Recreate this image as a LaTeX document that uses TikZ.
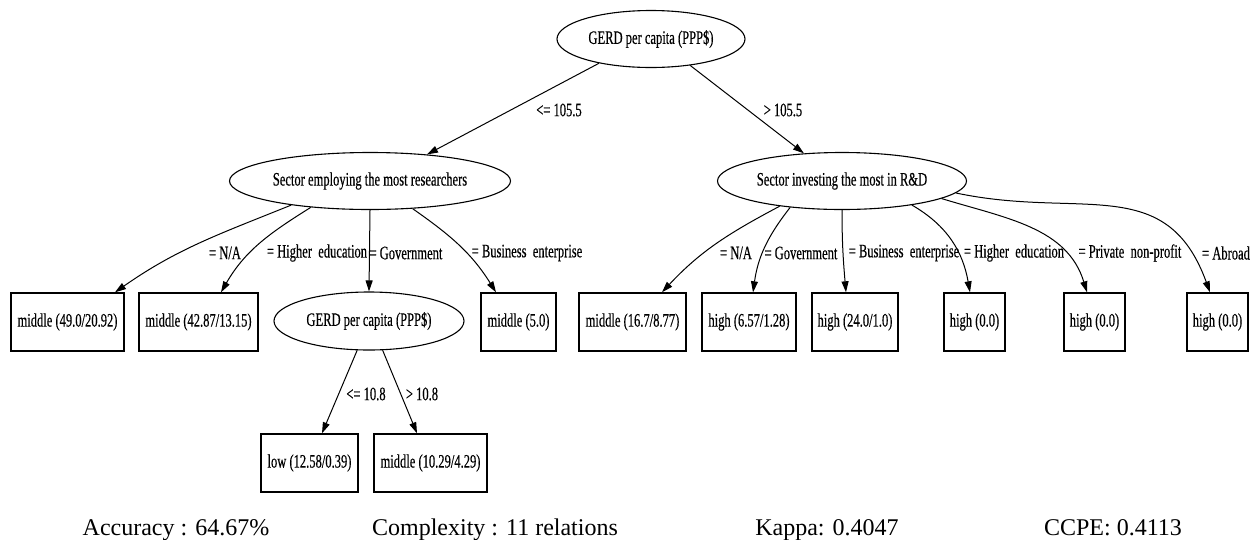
\documentclass[tikz,border=0pt]{standalone}
\usepackage{fontspec}
\setmainfont{Liberation Serif}
\newfontfamily\condfont[FakeStretch=0.66,FakeBold=0.4]{Liberation Serif}
\usetikzlibrary{shapes.geometric,arrows.meta,calc}
\begin{document}
\begin{tikzpicture}[x=1pt,y=-1pt,
  every node/.style={font=\condfont\fontsize{19}{22}\selectfont},
  ell/.style={draw,ellipse,line width=1.1pt,inner sep=0pt,minimum height=57pt},
  leaf/.style={draw,rectangle,line width=1.4pt,inner sep=0pt,minimum height=58pt},
  edge/.style={line width=1pt,-{Triangle[length=11pt,width=7pt]}},
  lbl/.style={inner sep=0pt},
  stat/.style={font=\fontsize{24}{28}\selectfont,inner sep=0pt,anchor=base}]
\useasboundingbox (0,0) rectangle (1260,539);

% internal nodes
\node[ell,minimum width=188pt] (root) at (651,39) {GERD per capita (PPP\$)};
\node[ell,minimum width=281pt] (emp) at (370,181) {Sector employing the most researchers};
\node[ell,minimum width=249pt] (inv) at (842,181) {Sector investing the most in R\&D};
\node[ell,minimum width=190pt,minimum height=58pt] (g2) at (369,321) {GERD per capita (PPP\$)};

% leaves
\node[leaf,minimum width=113pt] (l1) at (67.5,322) {middle (49.0/20.92)};
\node[leaf,minimum width=119pt] (l2) at (198.5,322) {middle (42.87/13.15)};
\node[leaf,minimum width=75pt] (l3) at (518.5,322) {middle (5.0)};
\node[leaf,minimum width=107pt] (r1) at (632.5,322) {middle (16.7/8.77)};
\node[leaf,minimum width=94pt] (r2) at (749,322) {high (6.57/1.28)};
\node[leaf,minimum width=86pt] (r3) at (855,322) {high (24.0/1.0)};
\node[leaf,minimum width=61pt] (r4) at (974.5,322) {high (0.0)};
\node[leaf,minimum width=61pt] (r5) at (1094.5,322) {high (0.0)};
\node[leaf,minimum width=61pt] (r6) at (1217.5,322) {high (0.0)};
\node[leaf,minimum width=97pt] (low) at (309.5,463) {low (12.58/0.39)};
\node[leaf,minimum width=113pt] (mid) at (430.5,463) {middle (10.29/4.29)};

% edges
\draw[edge] (root.-155) -- (emp.25);
\draw[edge] (root.-34.5) -- (inv.144);

\draw[edge] (emp.-163.7) to[out=202,in=35] ([xshift=47.5pt]l1.north);
\draw[edge] (emp.-156.7) to[out=212,in=60] ([xshift=22.5pt]l2.north);
\draw[edge] (emp.south) -- (g2.north);
\draw[edge] (emp.-33.7) to[out=-35,in=122] ([xshift=-22.5pt]l3.north);

\draw[edge] (inv.-158.7) to[out=208,in=47] ([xshift=29.5pt]r1.north);
\draw[edge] (inv.-153.5) to[out=232,in=82] ([xshift=4pt]r2.north);
\draw[edge] (inv.-90.5) to[out=-90,in=95] ([xshift=-9pt]r3.north);
\draw[edge] (inv.-19.4) to[out=-30,in=100] ([xshift=-4.5pt]r4.north);
\draw[edge] (inv.-10) to[out=-17,in=107] ([xshift=-7.5pt]r5.north);
\draw[edge] (inv.-6) to[out=-12,in=110,looseness=1.2] ([xshift=-7.5pt]r6.north);

\draw[edge] (g2.-112.6) -- ([xshift=12.5pt]low.north);
\draw[edge] (g2.-65.6) -- ([xshift=-13.5pt]mid.north);

% edge labels
\node[lbl] (e1) at (559,110) {<= 105.5};
\node[lbl] (e2) at (783,110) {> 105.5};
\node[lbl] (e3) at (225,253) {= N/A};
\node[lbl] (e4) at (317,253) {= Higher\ \ education};
\node[lbl] (e5) at (406,253) {= Government};
\node[lbl] (e6) at (527,253) {= Business\ \ enterprise};
\node[lbl] (e7) at (736,253) {= N/A};
\node[lbl] (e8) at (801,253) {= Government};
\node[lbl] (e9) at (904,253) {= Business\ \ enterprise};
\node[lbl] (e10) at (1014,253) {= Higher\ \ education};
\node[lbl] (e11) at (1130,253) {= Private\ \ non-profit};
\node[lbl] (e12) at (1226,253) {= Abroad};
\node[lbl] (e13) at (366,394) {<= 10.8};
\node[lbl] (e14) at (422,394) {> 10.8};

% statistics
\node[stat] (s1) at (176,535) {Accuracy : 64.67\%};
\node[stat] (s2) at (495,535) {Complexity : 11 relations};
\node[stat] (s3) at (827,535) {Kappa: 0.4047};
\node[stat] (s4) at (1113,535) {CCPE: 0.4113};
\end{tikzpicture}
\end{document}
